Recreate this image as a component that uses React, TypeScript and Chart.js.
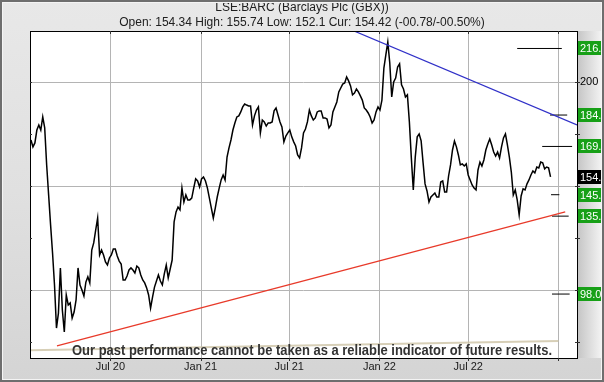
import React, { useEffect, useRef } from "react";
import { Chart, registerables } from "chart.js";
Chart.register(...registerables);

const TITLE = "LSE:BARC (Barclays Plc (GBX))";
const SUBTITLE = "Open: 154.34 High: 155.74 Low: 152.1 Cur: 154.42 (-00.78/-00.50%)";
const DISCLAIMER = "Our past performance cannot be taken as a reliable indicator of future results.";

// price samples every 4 calendar days from the start date
const PRICE_START = "2020-01-21";
const PRICE_STEP_DAYS = 4;
const prices = [
  172.1,168.8,170.7,176.9,179.3,176.9,183.2,177.9,160.1,145.7,
  131.3,117.8,102.4,81.7,88.9,110.6,90.4,79.8,97.6,92.8,
  93.8,86.5,89.4,95.2,110.6,102.4,100,97.1,103.8,106.3,
  103.4,119.2,122.6,128.8,134.6,116.8,119.2,116.8,113.5,112,
  115.4,116.8,119.7,119.7,116.3,113.9,112.5,104.8,104.8,106.7,
  109.6,110.6,109.6,108.2,111.5,110.6,107.2,104.8,103.4,101,
  97.6,91.3,96.6,101.4,104.3,107.2,104.3,102.4,107.7,112,
  105.8,110.1,114.4,132.7,137.5,139.9,138.5,149,142.3,145.7,
  143.3,143.3,144.2,149,153.4,152.4,149.5,153.4,154.3,152.4,
  149,144.2,139.4,134.6,139.4,144.7,149,152.9,155.3,152.9,
  163.9,168.3,172.1,176.9,180.3,183.2,183.7,185.6,188,189.4,
  188.9,188.5,188.5,179.3,183.7,186.5,188,175.5,181.7,180.8,
  178.8,180.3,180.3,180.8,186.1,187.5,184.1,180.8,178.4,171.2,
  174,175.5,176.9,173.6,171.2,169.2,164.9,163.5,168.3,175.5,
  177.4,180.8,186.5,183.7,181.7,182.7,185.6,186.1,186.1,182.7,
  182.7,182.2,177.9,179.3,185.6,188,190.4,195.2,197.1,199,
  199.5,202.4,200.5,198.1,193.8,194.7,196.6,195.2,193.3,191.3,
  187.5,186.5,185.1,183.2,180.3,181.7,185.6,188,186.5,191.3,
  206.7,213,219.2,209.1,192.8,200,201.9,207.2,208.7,198.6,
  196.6,192.8,193.8,180.8,163.5,148.1,163.9,173.6,175,171.7,
  161.1,151,147.6,142.3,144.7,145.7,146.6,144.7,144.7,151.9,
  152.4,147.1,147.1,154.8,160.1,167.3,171.6,168.8,164.9,160.1,
  160.6,159.6,160.6,155.3,152.9,150.5,149,148.1,157.7,161.5,
  159.6,162.5,167.3,170.2,172.6,169.7,166.3,164.4,166.3,163.5,
  168.8,173.1,175,169.7,163.9,156.7,145.7,148.1,143.3,136.1,
  145.2,148.6,148.1,151,152.9,155.3,157.2,156.3,159.1,158.7,
  161.5,161.1,158.2,159.1,158.7,154.4,
];

const X_MIN_DATE = "2020-01-19";
const X_MAX_DATE = "2023-02-08";
const Y_MIN = 67.3;
const Y_MAX = 224.5;

const xTickDates = ["2020-07-01", "2021-01-01", "2021-07-01", "2022-01-01", "2022-07-01", "2023-01-01"];
const xTickLabels = ["Jul 20", "Jan 21", "Jul 21", "Jan 22", "Jul 22", ""];
const yGridValues = [100, 150, 200];
const yLabelValues = [200];
const yTickValues = [75, 100, 125, 150, 175, 200, 225];

const targetLevels = [216.1, 184.1, 169.0, 145.8, 135.5, 98.04];
const targetLabels = ["216.1", "184.1", "169.0", "145.8", "135.5", "98.04"];
const targetFrom = ["2022-10-09", "2022-12-15", "2022-11-29", "2022-12-17", "2022-12-19", "2022-12-19"];
const targetTo = ["2023-01-08", "2023-01-19", "2023-01-29", "2023-01-03", "2023-01-22", "2023-01-24"];
const currentPrice = 154.42;
const currentLabel = "154.4";

const supportDates = ["2020-03-14", "2023-01-15"];
const supportValues = [73.1, 137.5];
const resistDates = ["2021-11-10", "2023-02-08"];
const resistValues = [224.5, 179.3];
const baseDates = ["2020-01-19", "2023-01-01"];
const baseValues = [71.0, 75.5];

const dayOf = (s: string) => {
  const [y, m, d] = s.split("-").map(Number);
  return Math.round((Date.UTC(y, m - 1, d) - Date.UTC(2020, 0, 1)) / 86400000);
};

const FONT = "'Liberation Sans', Arial, sans-serif";

const framePlugin = {
  id: "framePlugin",
  beforeDraw(chart: any) {
    const { ctx, chartArea: a, scales } = chart;
    const W = chart.width, H = chart.height;
    ctx.save();
    const g = ctx.createLinearGradient(0, 0, 0, H);
    g.addColorStop(0, "#e8e8e8");
    g.addColorStop(0.5, "#e0e0e0");
    g.addColorStop(1, "#d4d4d4");
    ctx.fillStyle = g;
    ctx.fillRect(0, 0, W, H);
    const rg = ctx.createLinearGradient(a.right, 0, W - 3, 0);
    rg.addColorStop(0, "#c4c4c4");
    rg.addColorStop(1, "#f2f2f2");
    ctx.fillStyle = rg;
    ctx.fillRect(a.right, a.top, W - 3 - a.right, a.bottom - a.top);
    ctx.fillStyle = "#ffffff";
    ctx.fillRect(a.left, a.top, a.right - a.left, a.bottom - a.top);
    ctx.strokeStyle = "#b4b4b4";
    ctx.lineWidth = 1;
    for (const v of yGridValues) {
      const y = Math.round(scales.y.getPixelForValue(v)) + 0.5;
      ctx.beginPath();
      ctx.moveTo(a.left, y);
      ctx.lineTo(a.right, y);
      ctx.stroke();
    }
    for (const d of xTickDates) {
      const x = Math.round(scales.x.getPixelForValue(dayOf(d))) + 0.5;
      ctx.beginPath();
      ctx.moveTo(x, a.top);
      ctx.lineTo(x, a.bottom);
      ctx.stroke();
    }
    ctx.restore();
  },
  afterDraw(chart: any) {
    const { ctx, chartArea: a, scales } = chart;
    const W = chart.width, H = chart.height;
    ctx.save();
    ctx.fillStyle = "#333333";
    ctx.font = "bold 15px 'Liberation Sans Narrow', " + FONT;
    ctx.textBaseline = "middle";
    ctx.textAlign = "left";
    const tw = ctx.measureText(DISCLAIMER).width;
    const target = 480;
    ctx.save();
    ctx.translate(72, a.bottom - 7);
    ctx.scale(target / tw, 1);
    ctx.fillText(DISCLAIMER, 0, 0);
    ctx.restore();

    ctx.strokeStyle = "#000";
    ctx.lineWidth = 1;
    ctx.strokeRect(a.left + 0.5, a.top + 0.5, a.right - a.left, a.bottom - a.top);
    ctx.strokeStyle = "#333";
    for (const d of xTickDates) {
      const x = Math.round(scales.x.getPixelForValue(dayOf(d))) + 0.5;
      ctx.beginPath();
      ctx.moveTo(x, a.top);
      ctx.lineTo(x, a.top + 3);
      ctx.moveTo(x, a.bottom);
      ctx.lineTo(x, a.bottom + 3);
      ctx.stroke();
    }
    for (const v of yTickValues) {
      const y = Math.round(scales.y.getPixelForValue(v)) + 0.5;
      if (y < a.top || y > a.bottom) continue;
      ctx.beginPath();
      ctx.moveTo(a.left, y);
      ctx.lineTo(a.left + 2, y);
      ctx.moveTo(a.right - 2, y);
      ctx.lineTo(a.right + 3, y);
      ctx.stroke();
    }
    ctx.font = "11px " + FONT;
    ctx.fillStyle = "#000";
    ctx.textAlign = "left";
    ctx.textBaseline = "middle";
    for (const v of yLabelValues) {
      ctx.fillText(String(v), a.right + 3, scales.y.getPixelForValue(v));
    }
    const drawBox = (v: number, text: string, color: string) => {
      const y = Math.round(scales.y.getPixelForValue(v));
      ctx.fillStyle = color;
      ctx.fillRect(a.right + 1, y - 7, 40, 14);
      ctx.fillStyle = "#ffffff";
      ctx.fillText(text, a.right + 3, y + 0.5);
    };
    targetLevels.forEach((v, i) => drawBox(v, targetLabels[i], "#17a017"));
    drawBox(currentPrice, currentLabel, "#000000");

    ctx.fillStyle = "#1a1a1a";
    ctx.textAlign = "center";
    ctx.font = "11px " + FONT;
    xTickDates.forEach((d, i) => {
      ctx.fillText(xTickLabels[i], scales.x.getPixelForValue(dayOf(d)), a.bottom + 9);
    });

    ctx.font = "12px " + FONT;
    ctx.fillStyle = "#202020";
    ctx.fillText(TITLE, W / 2, 8);
    ctx.fillText(SUBTITLE, W / 2, 23);

    ctx.strokeStyle = "#6e6e6e";
    ctx.lineWidth = 2;
    ctx.strokeRect(1, 1, W - 2, H - 2);
    ctx.strokeStyle = "#f4f4f4";
    ctx.lineWidth = 1;
    ctx.strokeRect(2.5, 2.5, W - 5, H - 5);
    ctx.restore();
  },
};

export default function App() {
  const ref = useRef<HTMLCanvasElement>(null);
  useEffect(() => {
    document.body.style.margin = "0";
    const start = dayOf(PRICE_START);
    const priceData = prices.map((v, i) => ({ x: start + i * PRICE_STEP_DAYS, y: v }));
    const seg = (dates: string[], vals: number[]) => dates.map((d, i) => ({ x: dayOf(d), y: vals[i] }));
    const targets = targetLevels.map((lv, i) => ({
      data: [{ x: dayOf(targetFrom[i]), y: lv }, { x: dayOf(targetTo[i]), y: lv }],
      borderColor: "#000000",
      borderWidth: 1,
      pointRadius: 0,
    }));
    const chart = new Chart(ref.current!, {
      type: "line",
      data: {
        datasets: [
          { data: seg(baseDates, baseValues), borderColor: "rgba(205,195,165,0.8)", borderWidth: 2, pointRadius: 0 },
          { data: seg(supportDates, supportValues), borderColor: "#e83a2a", borderWidth: 1.3, pointRadius: 0 },
          { data: seg(resistDates, resistValues), borderColor: "#3030c8", borderWidth: 1.3, pointRadius: 0 },
          ...targets,
          { data: priceData, borderColor: "#000000", borderWidth: 1.5, pointRadius: 0, tension: 0 },
        ],
      },
      options: {
        responsive: false,
        animation: false,
        devicePixelRatio: 1,
        events: [],
        layout: { padding: { left: 30, top: 31, right: 27, bottom: 24 } },
        scales: {
          x: { type: "linear", display: false, min: dayOf(X_MIN_DATE), max: dayOf(X_MAX_DATE) },
          y: { type: "linear", display: false, min: Y_MIN, max: Y_MAX },
        },
        plugins: { legend: { display: false }, tooltip: { enabled: false } },
      },
      plugins: [framePlugin],
    } as any);
    return () => chart.destroy();
  }, []);
  return <canvas ref={ref} width={604} height={382} style={{ display: "block" }} />;
}
